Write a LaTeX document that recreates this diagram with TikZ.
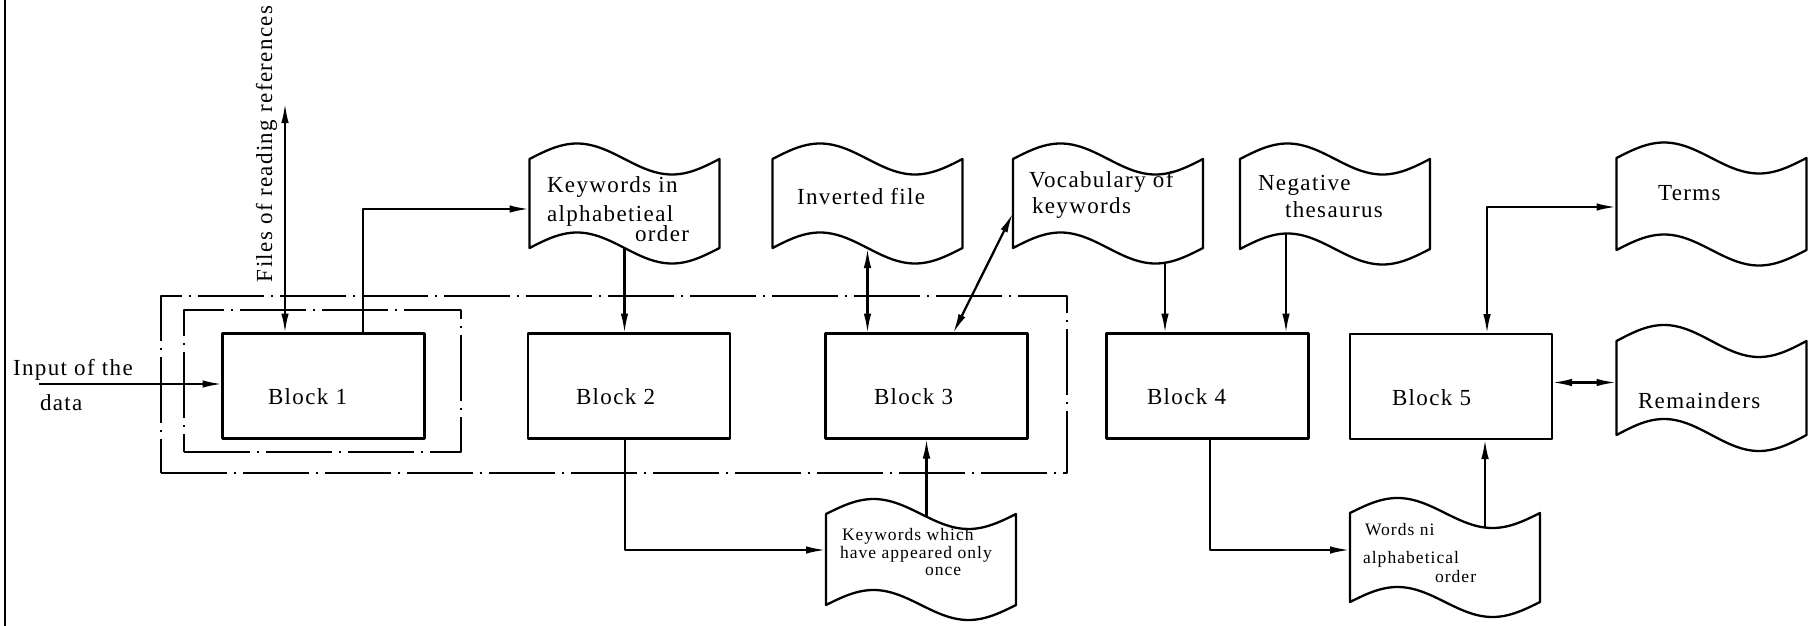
\documentclass[tikz,border=0pt]{standalone}
\usepackage{fontspec}
\setmainfont{Liberation Serif}[LetterSpace=6]
\usetikzlibrary{arrows.meta,calc}

% invisible anchor node of a punched-tape document symbol: name, x, y, height
\newcommand\tapedoc[4]{%
  \node[tapenode, minimum height=#4pt] (#1) at (#2,#3) {};}
% wavy outline of a document symbol: name, wave amplitude
\newcommand\tapeoutline[2]{%
  \draw[tapeline] (#1.north west)
    sin ++(47.5,-#2) cos ++(47.5,#2) sin ++(47.5,#2) cos ++(47.5,-#2)
    -- (#1.south east)
    sin ++(-47.5,#2) cos ++(-47.5,-#2) sin ++(-47.5,-#2) cos ++(-47.5,#2)
    -- cycle;}

\begin{document}
\begin{tikzpicture}[x=1pt,y=-1pt,
  line width=2.3pt, line join=round,
  every node/.style={inner sep=0pt, outer sep=0pt},
  blockbox/.style={draw, fill=white, minimum width=202pt, minimum height=105pt},
  tapenode/.style={minimum width=190pt},
  tapeline/.style={draw, fill=white},
  groupbox/.style={draw, line width=2pt, dash pattern=on 66pt off 7pt on 2pt off 7pt},
  flow/.style={-{Latex[length=20pt,width=7.5pt]}},
  flowboth/.style={{Latex[length=20pt,width=7.5pt]}-{Latex[length=20pt,width=7.5pt]}},
  txt/.style={anchor=base west, font=\fontsize{23}{26}\selectfont},
  smalltxt/.style={anchor=base west, font=\fontsize{17.5}{20}\selectfont},
]
\useasboundingbox (0,0) rectangle (1813,626);

% margin rule at the left
\draw[line width=2pt] (5,0) -- (5,626);

% dash-dot grouping frames
\node[groupbox, minimum width=906pt, minimum height=177pt] (outer) at (614,384.5) {};
\node[groupbox, minimum width=277pt, minimum height=142pt] (inner) at (322.5,381) {};

% processing blocks
\node[blockbox] (b1) at (323.5,386) {};
\node[blockbox] (b2) at (629,386) {};
\node[blockbox] (b3) at (926.5,386) {};
\node[blockbox] (b4) at (1207.5,386) {};
\node[blockbox] (b5) at (1451,386.5) {};

% files (document symbols)
\tapedoc{kwa}{624.5}{203.5}{89}
\tapedoc{inv}{867.5}{203.5}{89}
\tapedoc{voc}{1108}{203.5}{89}
\tapedoc{neg}{1335}{204}{90}
\tapedoc{terms}{1711.5}{204}{92}
\tapedoc{rem}{1711.5}{388}{94}
\tapedoc{kww}{921}{559.5}{91}
\tapedoc{words}{1445}{557.5}{89}

% connectors
\coordinate (inpt) at (39,384);
\draw[flow] (inpt) -- (inpt -| b1.west);
\coordinate (refs) at (285,103);
\draw[flowboth] (refs) -- (refs |- b1.north);
\draw[flow] ($(b1.north)+(39.5,0)$) |- ($(kwa.west)+(0,5.5)$);
\draw[flow] (kwa.center) -- (kwa.center |- b2.north);
\draw[flowboth] (inv.south) -- (inv.south |- b3.north);
\draw[flowboth] ($(b3.north)+(26.5,0)$) -- ($(voc.west)+(0,9.5)$);
\coordinate (b4a) at ($(b4.north)+(-42.5,0)$);
\coordinate (b4b) at ($(b4.north)+(78.5,0)$);
\draw[flow] (b4a |- voc.center) -- (b4a);
\draw[flow] (b4b |- neg.center) -- (b4b);
\draw[flowboth] ($(b5.north)+(36,0)$) |- ($(terms.west)+(0,3)$);
\coordinate (b5r) at ($(b5.east)+(0,-4)$);
\draw[flowboth] (b5r) -- (b5r -| rem.west);
\draw[flow] ($(b2.south)+(-4,0)$) |- ($(kww.west)+(0,-9.5)$);
\draw[flow] (b3.south |- kww.center) -- (b3.south);
\draw[flow] ($(b4.south)+(2.5,0)$) |- ($(words.west)+(0,-7.5)$);
\coordinate (b5b) at ($(b5.south)+(34,0)$);
\draw[flow] (b5b |- words.center) -- (b5b);

% document outlines, drawn over the connector ends
\tapeoutline{kwa}{15.5}
\tapeoutline{inv}{15.5}
\tapeoutline{voc}{15.5}
\tapeoutline{neg}{15.5}
\tapeoutline{terms}{15.5}
\tapeoutline{rem}{16}
\tapeoutline{kww}{15}
\tapeoutline{words}{15}

% texts
\node[txt, rotate=90] (refstxt) at (272,282) {Files of reading references};
\node[txt] (inputtxt) at (13,375) {Input of the};
\node[txt] (datatxt) at (40,410) {data};

\node[txt] (b1txt) at (268,404) {Block 1};
\node[txt] (b2txt) at (576,404) {Block 2};
\node[txt] (b3txt) at (874,404) {Block 3};
\node[txt] (b4txt) at (1147,404) {Block 4};
\node[txt] (b5txt) at (1392,405) {Block 5};

\node[txt] (kwa1) at (547,192) {Keywords in};
\node[txt] (kwa2) at (547,221) {alphabetieal};
\node[txt] (kwa3) at (635,241) {order};
\node[txt] (invtxt) at (797,204) {Inverted file};
\node[txt] (voc1) at (1029,187) {Vocabulary of};
\node[txt] (voc2) at (1032,213) {keywords};
\node[txt] (neg1) at (1258,190) {Negative};
\node[txt] (neg2) at (1285,217) {thesaurus};
\node[txt] (termstxt) at (1658,200) {Terms};
\node[txt] (remtxt) at (1638,408) {Remainders};

\node[smalltxt] (kww1) at (842,540) {Keywords which};
\node[smalltxt] (kww2) at (840,558) {have appeared only};
\node[smalltxt] (kww3) at (925,575) {once};
\node[smalltxt] (words1) at (1365,535) {Words ni};
\node[smalltxt] (words2) at (1363,563) {alphabetical};
\node[smalltxt] (words3) at (1435,582) {order};
\end{tikzpicture}
\end{document}
